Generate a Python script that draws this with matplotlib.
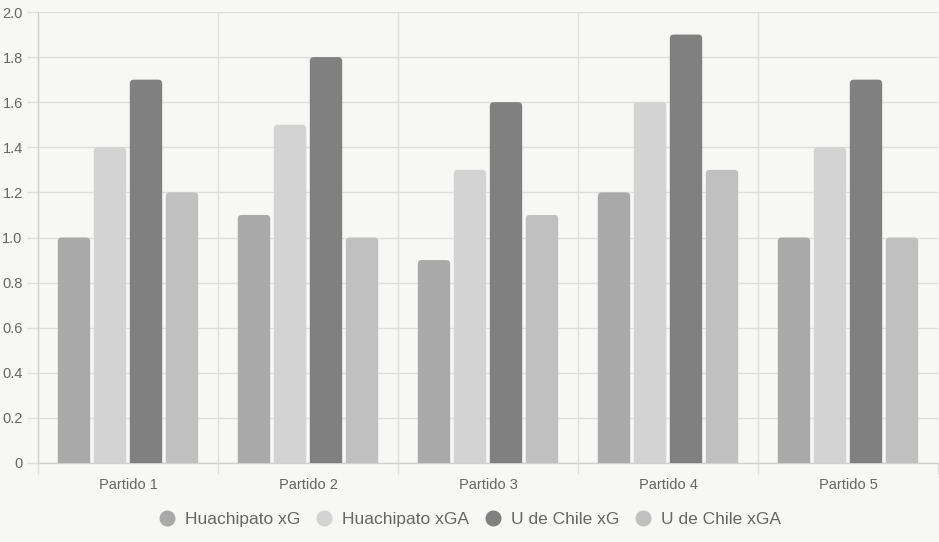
import numpy as np
import matplotlib.pyplot as plt
from matplotlib.patches import FancyBboxPatch
from matplotlib.lines import Line2D

plt.rcParams['font.family'] = ['Liberation Sans', 'DejaVu Sans']

# data
partidos = ['Partido 1', 'Partido 2', 'Partido 3', 'Partido 4', 'Partido 5']
series_names = ['Huachipato xG', 'Huachipato xGA', 'U de Chile xG', 'U de Chile xGA']
huachipato_xg = [1.0, 1.1, 0.9, 1.2, 1.0]
huachipato_xga = [1.4, 1.5, 1.3, 1.6, 1.4]
udechile_xg = [1.7, 1.8, 1.6, 1.9, 1.7]
udechile_xga = [1.2, 1.0, 1.1, 1.3, 1.0]
y_ticks = [0, 0.2, 0.4, 0.6, 0.8, 1.0, 1.2, 1.4, 1.6, 1.8, 2.0]
y_labels = ['0', '0.2', '0.4', '0.6', '0.8', '1.0', '1.2', '1.4', '1.6', '1.8', '2.0']

colors = ['#a9a9a9', '#d3d3d3', '#808080', '#c0c0c0']
bg = '#f7f7f5'
grid_c = '#dedede'
txt_c = '#666666'

W, H = 939, 542
fig = plt.figure(figsize=(W / 100, H / 100), dpi=100, facecolor=bg)
ax_l, ax_r, ax_t, ax_b = 38, 938, 12, 463
ax = fig.add_axes([ax_l / W, (H - ax_b) / H, (ax_r - ax_l) / W, (ax_b - ax_t) / H])
ax.set_facecolor(bg)

x = np.arange(len(partidos))
n = len(series_names)
group_w = 0.8
slot = group_w / n
bar_w = slot * 0.9
all_vals = [huachipato_xg, huachipato_xga, udechile_xg, udechile_xga]

ax.set_xlim(-0.5, len(partidos) - 0.5)
ax.set_ylim(0, 2.0)

# pixel scale for rounded corners
px_x = (len(partidos)) / (ax_r - ax_l)
px_y = 2.0 / (ax_b - ax_t)
aspect = px_y / px_x
r = 4 * px_x

for i, (vals, c) in enumerate(zip(all_vals, colors)):
    offs = x - group_w / 2 + slot * (i + 0.5)
    bars = ax.bar(offs, vals, width=bar_w, color=c)
    for b in bars:
        b.set_visible(False)
        bx, bw, bh = b.get_x(), b.get_width(), b.get_height()
        p = FancyBboxPatch((bx, -0.05), bw, bh + 0.05,
                           boxstyle=f'round,pad=0,rounding_size={r}',
                           mutation_aspect=aspect, facecolor=c,
                           edgecolor=c, linewidth=0, zorder=3)
        ax.add_patch(p)

ax.set_yticks(y_ticks)
ax.set_yticklabels(y_labels)
ax.set_xticks(x)
ax.set_xticklabels(partidos)
ax.set_xticks(np.arange(-0.5, len(partidos), 1.0), minor=True)

ax.grid(True, axis='y', which='major', color=grid_c, linewidth=1, zorder=0)
ax.grid(True, axis='x', which='minor', color=grid_c, linewidth=1, zorder=0)
ax.set_axisbelow(True)

ax.tick_params(axis='x', which='major', length=0, pad=11, labelsize=10.5, colors=txt_c)
ax.tick_params(axis='x', which='minor', length=8, color=grid_c, width=1)
ax.tick_params(axis='y', which='major', length=8, color=grid_c, width=1, pad=3,
               labelsize=10.5, labelcolor=txt_c)

for s in ['top', 'right']:
    ax.spines[s].set_visible(False)
for s in ['left', 'bottom']:
    ax.spines[s].set_color('#d0d0d0')
    ax.spines[s].set_linewidth(1)

handles = [Line2D([0], [0], marker='o', linestyle='', markersize=10.5,
                  markerfacecolor=c, markeredgecolor=c) for c in colors]
fig.legend(handles, series_names, loc='center', bbox_to_anchor=(0.5, (H - 519) / H),
           ncol=4, frameon=False, fontsize=12.5, labelcolor=txt_c,
           handletextpad=0.55, columnspacing=0.85, handlelength=1.0)

fig.savefig('out.png', dpi=100, facecolor=bg)
